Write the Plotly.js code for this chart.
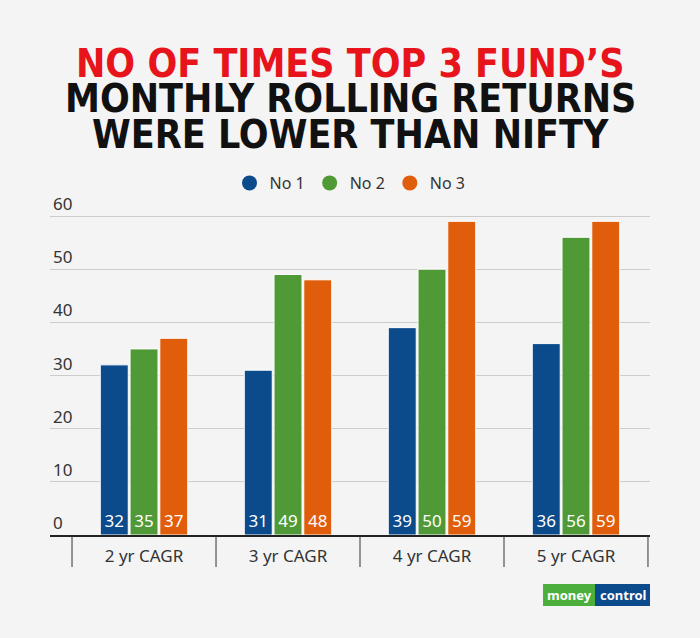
<!DOCTYPE html>
<html><head><meta charset="utf-8">
<script src="https://cdn.plot.ly/plotly-3.0.1.min.js"></script>
<style>body{margin:0;background:#f4f4f4}#chart{width:700px;height:638px}</style>
</head><body><div id="chart"></div>
<script>
const categories = ['2 yr CAGR', '3 yr CAGR', '4 yr CAGR', '5 yr CAGR'];
const seriesNames = ['No 1', 'No 2', 'No 3'];
const no1 = [32, 31, 39, 36];
const no2 = [35, 49, 50, 56];
const no3 = [37, 48, 59, 59];
const colors = ['#0b4a8b', '#4f9a36', '#e05e0b'];
const yTicks = [0, 10, 20, 30, 40, 50, 60];

const series = [no1, no2, no3];
const traces = series.map((vals, i) => ({
  type: 'bar', x: categories, y: vals, name: seriesNames[i],
  marker: {color: colors[i], line: {color: '#ffffff', width: 1}},
  text: vals.map(String), textposition: 'inside', insidetextanchor: 'start',
  textangle: 0, constraintext: 'none',
  textfont: {family: 'Noto Sans', size: 17, color: '#ffffff'},
  showlegend: false, hoverinfo: 'x+y'
}));
// legend entries with round markers
seriesNames.forEach((n, i) => traces.push({
  type: 'scatter', mode: 'markers', x: [null], y: [null], name: n,
  marker: {symbol: 'circle', size: 15, color: colors[i]}, showlegend: true
}));

// plot area spans pixel rows PT..PB; gridline 60 sits at y=216
const PT = 192, PB = 535;
const py2paper = py => (PB - py) / (PB - PT);

const shapes = [];
for (let k = 0; k <= categories.length; k++) {
  shapes.push({type: 'line', xref: 'x', yref: 'paper', x0: k - 0.5, x1: k - 0.5,
    y0: 0, y1: py2paper(567), line: {color: '#333333', width: 1}});
}
// logo boxes
shapes.push({type: 'rect', xref: 'paper', yref: 'paper', x0: (543-50)/600, x1: (595-50)/600,
  y0: py2paper(606), y1: py2paper(584), fillcolor: '#4caf3c', line: {width: 0}, layer: 'above'});
shapes.push({type: 'rect', xref: 'paper', yref: 'paper', x0: (595-50)/600, x1: (650-50)/600,
  y0: py2paper(606), y1: py2paper(584), fillcolor: '#0b4a8b', line: {width: 0}, layer: 'above'});

const titleFont = 'DejaVu Sans Condensed, DejaVu Sans, sans-serif';
const titleLines = [
  ['NO OF TIMES TOP 3 FUND’S', '#e8141b', 63],
  ['MONTHLY ROLLING RETURNS', '#111111', 99],
  ['WERE LOWER THAN NIFTY', '#111111', 135]
];
const annotations = [];
titleLines.forEach(([t, c, py]) => annotations.push({
  text: '<b>' + t + '</b>', xref: 'paper', yref: 'paper', x: 0.5, y: py2paper(py),
  xanchor: 'center', yanchor: 'middle', showarrow: false,
  font: {family: titleFont, size: 39, color: c}
}));
annotations.push({text: '<b>money</b>', xref: 'paper', yref: 'paper', x: (569-50)/600, y: py2paper(595),
  xanchor: 'center', yanchor: 'middle', showarrow: false,
  font: {family: 'Noto Sans', size: 13, color: '#ffffff'}});
annotations.push({text: '<b>control</b>', xref: 'paper', yref: 'paper', x: (622.5-50)/600, y: py2paper(595),
  xanchor: 'center', yanchor: 'middle', showarrow: false,
  font: {family: 'Noto Sans', size: 13, color: '#ffffff'}});

const layout = {
  width: 700, height: 638,
  margin: {l: 50, r: 50, t: PT, b: 638 - PB},
  paper_bgcolor: '#f4f4f4', plot_bgcolor: 'rgba(0,0,0,0)',
  barmode: 'group', bargap: 0.38, bargroupgap: 0.06,
  font: {family: 'Noto Sans', color: '#333333'},
  xaxis: {type: 'category', range: [-0.653, 3.514], showgrid: false, ticks: '',
    showline: true, linecolor: '#222222', linewidth: 2,
    tickfont: {size: 17, color: '#333333'}, ticklabelstandoff: 5, fixedrange: true},
  yaxis: {range: [0, 60 * (PB - PT) / (535 - 216)], tickvals: yTicks, ticklabelposition: 'inside top',
    showgrid: true, gridcolor: '#cccccc', gridwidth: 1, zeroline: false, showline: false,
    tickfont: {size: 17, color: '#333333'}, fixedrange: true},
  legend: {orientation: 'h', x: 0.5, xanchor: 'center', y: py2paper(183), yanchor: 'middle',
    font: {size: 16, color: '#333333'}, bgcolor: 'rgba(0,0,0,0)', itemwidth: 30, tracegroupgap: 0},
  shapes: shapes, annotations: annotations
};
Plotly.newPlot('chart', traces, layout, {displayModeBar: false, staticPlot: true});
</script></body></html>
